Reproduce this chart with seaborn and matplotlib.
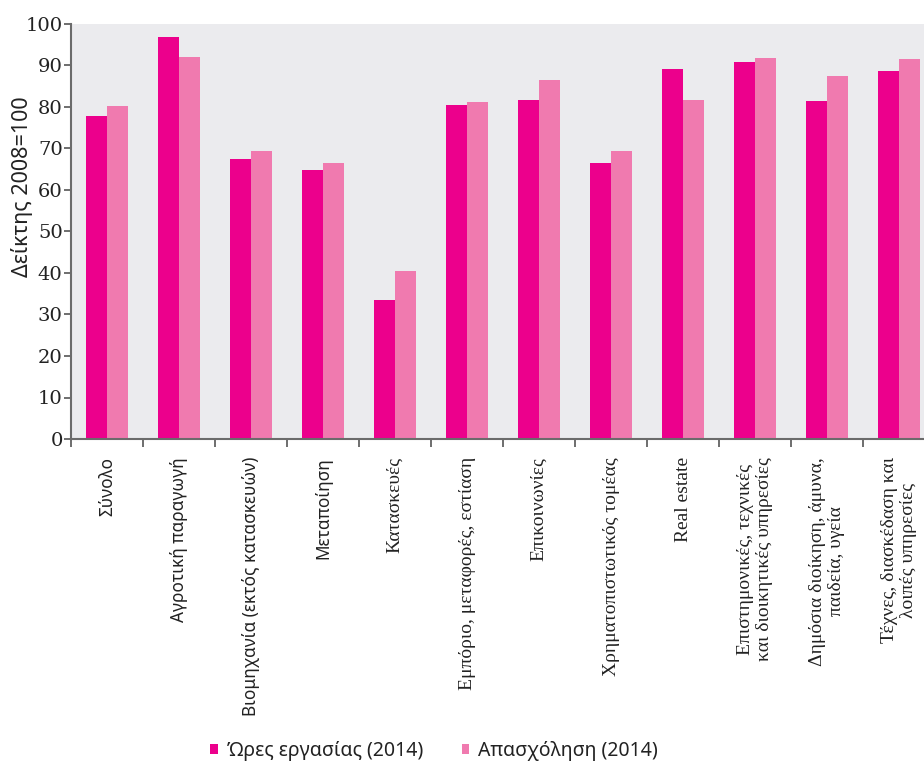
import numpy as np
import pandas as pd
import matplotlib
matplotlib.use("Agg")
import matplotlib.pyplot as plt
import seaborn as sns
from matplotlib.patches import Patch

categories = [
    "Σύνολο",
    "Αγροτική παραγωγή",
    "Βιομηχανία (εκτός κατασκευών)",
    "Μεταποίηση",
    "Κατασκευές",
    "Εμπόριο, μεταφορές, εστίαση",
    "Επικοινωνίες",
    "Χρηματοπιστωτικός τομέας",
    "Real estate",
    "Επιστημονικές, τεχνικές\nκαι διοικητικές υπηρεσίες",
    "Δημόσια διοίκηση, άμυνα,\nπαιδεία, υγεία",
    "Τέχνες, διασκέδαση και\nλοιπές υπηρεσίες",
]
hours_2014 = [77.8, 96.8, 67.5, 64.9, 33.4, 80.5, 81.6, 66.4, 89.2, 90.9, 81.4, 88.6]
employment_2014 = [80.2, 92.0, 69.4, 66.4, 40.4, 81.1, 86.4, 69.4, 81.8, 91.7, 87.4, 91.6]
series_names = ["Ώρες εργασίας (2014)", "Απασχόληση (2014)"]
yticks = [0, 10, 20, 30, 40, 50, 60, 70, 80, 90, 100]

df = pd.DataFrame({
    "cat": categories * 2,
    "value": hours_2014 + employment_2014,
    "series": [series_names[0]] * len(categories) + [series_names[1]] * len(categories),
})

colors = ["#EC008C", "#F07AAF"]
sns.set_theme(style="white")
plt.rcParams["font.family"] = ["DejaVu Serif"]

fig = plt.figure(figsize=(9.24, 7.69), dpi=100)
W, H = 924, 769
ax = fig.add_axes([71 / W, (H - 439) / H, (935 - 71) / W, (439 - 24) / H])
ax.set_facecolor("#EBEBEE")

sns.barplot(data=df, x="cat", y="value", hue="series", order=categories,
            hue_order=series_names, palette=colors, width=0.57, gap=0,
            linewidth=0, saturation=1, ax=ax, legend=False)

ax.set_xlim(-0.5, len(categories) - 0.5)
ax.set_ylim(0, 100)
ax.set_yticks(yticks)
ax.set_yticklabels([str(t) for t in yticks], fontsize=14, color="#222222",
                   family="DejaVu Serif")
ax.tick_params(axis="y", which="major", length=5, width=1.2, color="#555555",
               direction="out", left=True, pad=1)

ax.set_xticks(range(len(categories)))
ax.set_xticklabels(categories, rotation=90, ha="center", va="top",
                   multialignment="center", color="#222222")
for i, lab in enumerate(ax.get_xticklabels()):
    if i < 4:
        lab.set_family("Noto Sans")
        lab.set_fontsize(12.4)
    else:
        lab.set_family("Liberation Serif")
        lab.set_fontsize(14)
    lab.set_linespacing(1.1)
ax.tick_params(axis="x", which="major", length=0, pad=13)
ax.set_xticks(np.arange(-0.5, len(categories), 1.0), minor=True)
ax.tick_params(axis="x", which="minor", length=6, width=1.2, color="#555555",
               direction="out", bottom=True)

ax.set_xlabel("")
ax.set_ylabel("Δείκτης 2008=100", fontsize=15.5, color="#222222", family="Noto Sans")
ax.yaxis.set_label_coords((33 - 71) / 864, (439 - 187) / 415)

for s in ["top", "right"]:
    ax.spines[s].set_visible(False)
for s in ["left", "bottom"]:
    ax.spines[s].set_color("#6b6b6b")
    ax.spines[s].set_linewidth(1.5)

handles = [Patch(facecolor=c, edgecolor="none") for c in colors]
fig.legend(handles, series_names, loc="center", bbox_to_anchor=(434 / W, 1 - 751 / H),
           ncol=2, frameon=False, prop={"family": "Noto Sans", "size": 14},
           handlelength=0.4, handleheight=0.4, handletextpad=0.45, columnspacing=2.0,
           labelcolor="#222222")

fig.savefig("out.png", dpi=100)
